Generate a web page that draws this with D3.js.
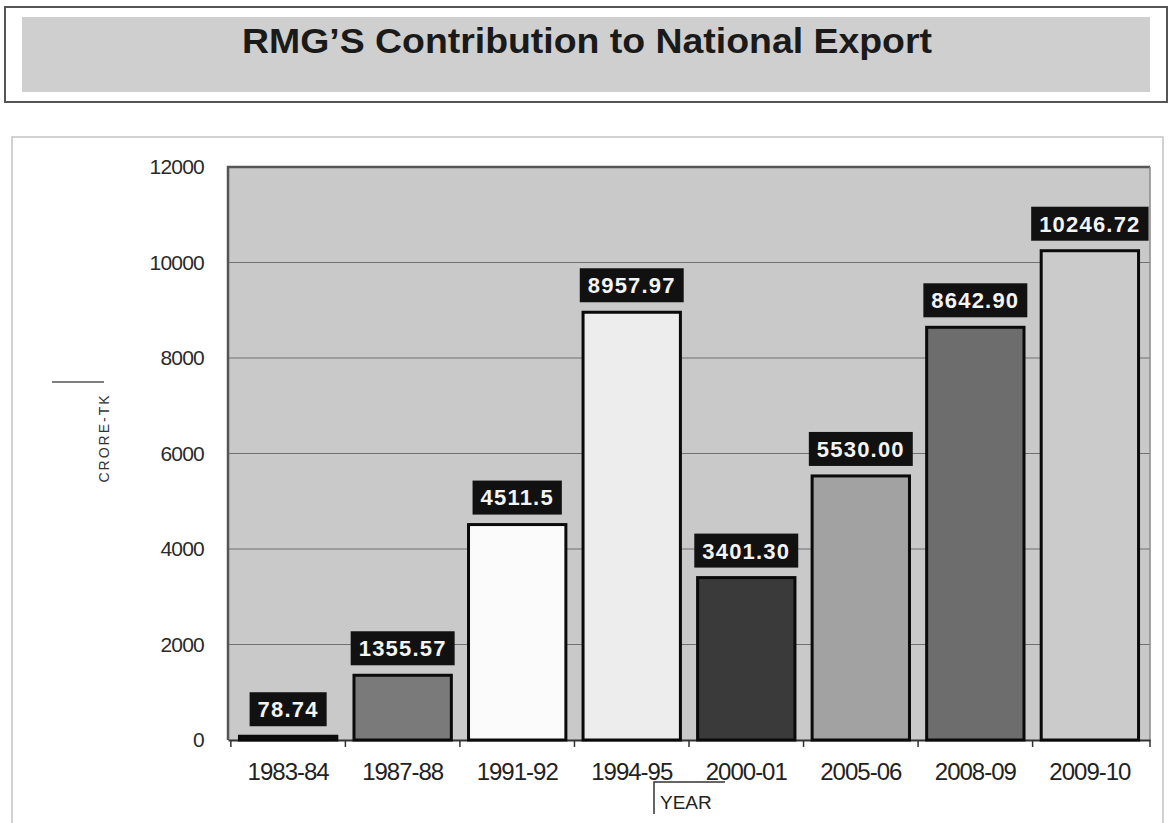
<!DOCTYPE html>
<html>
<head>
<meta charset="utf-8">
<script src="https://cdn.jsdelivr.net/npm/d3@7"></script>
<style>
  html, body { margin: 0; padding: 0; background: #fff; }
  svg { display: block; font-family: "Liberation Sans", Arial, sans-serif; }
</style>
</head>
<body>
<svg id="chart" width="1171" height="823"></svg>
<script>
// Export years and RMG export value (crore taka)
const years = ["1983-84", "1987-88", "1991-92", "1994-95", "2000-01", "2005-06", "2008-09", "2009-10"];
const values = [78.74, 1355.57, 4511.5, 8957.97, 3401.30, 5530.00, 8642.90, 10246.72];
const valueLabels = ["78.74", "1355.57", "4511.5", "8957.97", "3401.30", "5530.00", "8642.90", "10246.72"];
const barFills = ["#141414", "#7a7a7a", "#fbfbfb", "#ededed", "#3a3a3a", "#a2a2a2", "#6d6d6d", "#cbcbcb"];
const yTicks = [0, 2000, 4000, 6000, 8000, 10000, 12000];

const svg = d3.select("#chart");

// Title banner
svg.append("rect").attr("x", 5).attr("y", 7).attr("width", 1162).attr("height", 95)
  .attr("fill", "#fff").attr("stroke", "#555").attr("stroke-width", 2);
svg.append("rect").attr("x", 22).attr("y", 17).attr("width", 1128).attr("height", 75)
  .attr("fill", "#cfcfcf");
svg.append("text").attr("x", 587).attr("y", 53)
  .attr("text-anchor", "middle").attr("font-size", 35).attr("font-weight", "bold")
  .attr("fill", "#1a1a1a").attr("textLength", 690).attr("lengthAdjust", "spacingAndGlyphs")
  .text("RMG\u2019S Contribution to National Export");

// Chart frame
svg.append("path").attr("d", "M12,823 V137 H1163 V823")
  .attr("fill", "none").attr("stroke", "#c4c4c4").attr("stroke-width", 1.5);

// Plot area
const plot = { left: 228, right: 1150, top: 167, bottom: 740 };

const x = d3.scaleBand().domain(years).range([plot.left, plot.right]).paddingInner(0.15).paddingOuter(0.1);
const y = d3.scaleLinear().domain([0, 12000]).range([plot.bottom, plot.top]);

svg.append("rect").attr("x", plot.left).attr("y", plot.top)
  .attr("width", plot.right - plot.left).attr("height", plot.bottom - plot.top)
  .attr("fill", "#c9c9c9");

// Gridlines
svg.append("g").selectAll("line").data(yTicks.filter(d => d > 0 && d < 12000)).join("line")
  .attr("x1", plot.left).attr("x2", plot.right)
  .attr("y1", d => y(d)).attr("y2", d => y(d))
  .attr("stroke", "#707070").attr("stroke-width", 1.2);

// Plot border
svg.append("path").attr("d", `M${plot.left},${plot.bottom} V${plot.top} H${plot.right}`)
  .attr("fill", "none").attr("stroke", "#555").attr("stroke-width", 2.5);
svg.append("line").attr("x1", plot.right).attr("x2", plot.right)
  .attr("y1", plot.top).attr("y2", plot.bottom).attr("stroke", "#8a8a8a").attr("stroke-width", 1.5);

// Y axis
const yAxis = svg.append("g").attr("transform", `translate(${plot.left},0)`)
  .call(d3.axisLeft(y).tickValues(yTicks).tickSize(0).tickPadding(24).tickFormat(d3.format("d")));
yAxis.select(".domain").remove();
yAxis.selectAll("text").attr("font-size", 21).attr("fill", "#2a2a2a")
  .attr("font-family", "'Liberation Sans', Arial, sans-serif").attr("letter-spacing", "-0.8");

// X axis
const xAxis = svg.append("g").attr("transform", `translate(0,${plot.bottom})`)
  .call(d3.axisBottom(x).tickSize(0).tickPadding(23));
xAxis.select(".domain").attr("stroke", "#333").attr("stroke-width", 2);
xAxis.selectAll("text").attr("font-size", 24).attr("fill", "#222")
  .attr("font-family", "'Liberation Sans', Arial, sans-serif").attr("letter-spacing", "-1");

// Category boundary ticks
const step = x.step();
const bounds = years.map(d => x(d) - (step - x.bandwidth()) / 2).concat([plot.right]);
svg.append("g").selectAll("line").data(bounds).join("line")
  .attr("x1", d => d).attr("x2", d => d)
  .attr("y1", plot.bottom).attr("y2", plot.bottom + 7)
  .attr("stroke", "#333").attr("stroke-width", 1.5);

// Bars
svg.append("g").selectAll("rect").data(values).join("rect")
  .attr("x", (d, i) => x(years[i]))
  .attr("y", d => y(d))
  .attr("width", x.bandwidth())
  .attr("height", d => y(0) - y(d))
  .attr("fill", (d, i) => barFills[i])
  .attr("stroke", "#0a0a0a").attr("stroke-width", 3);

// Value labels on dark boxes
const labels = svg.append("g").selectAll("g").data(values).join("g")
  .attr("transform", (d, i) => `translate(${x(years[i]) + x.bandwidth() / 2},${y(d) - 27})`);
labels.each(function (d, i) {
  const g = d3.select(this);
  const t = g.append("text").attr("text-anchor", "middle").attr("dy", "0.36em")
    .attr("font-size", 22).attr("font-weight", "bold").attr("fill", "#f4f4f4")
    .attr("letter-spacing", "1.2").text(valueLabels[i]);
  const w = t.node().getComputedTextLength() + 16;
  g.insert("rect", "text").attr("x", -w / 2).attr("y", -17).attr("width", w).attr("height", 34)
    .attr("fill", "#111");
});

// Y axis title
svg.append("line").attr("x1", 52).attr("x2", 104).attr("y1", 382).attr("y2", 382)
  .attr("stroke", "#555").attr("stroke-width", 1.5);
svg.append("text").attr("transform", "translate(109,438) rotate(-90)")
  .attr("text-anchor", "middle").attr("font-size", 14).attr("fill", "#333")
  .attr("letter-spacing", "2").text("CRORE-TK");

// X axis title
svg.append("path").attr("d", "M725,782 H654 V814")
  .attr("fill", "none").attr("stroke", "#333").attr("stroke-width", 1.5);
svg.append("text").attr("x", 660).attr("y", 809)
  .attr("font-size", 19).attr("fill", "#222").text("YEAR");
</script>
</body>
</html>
